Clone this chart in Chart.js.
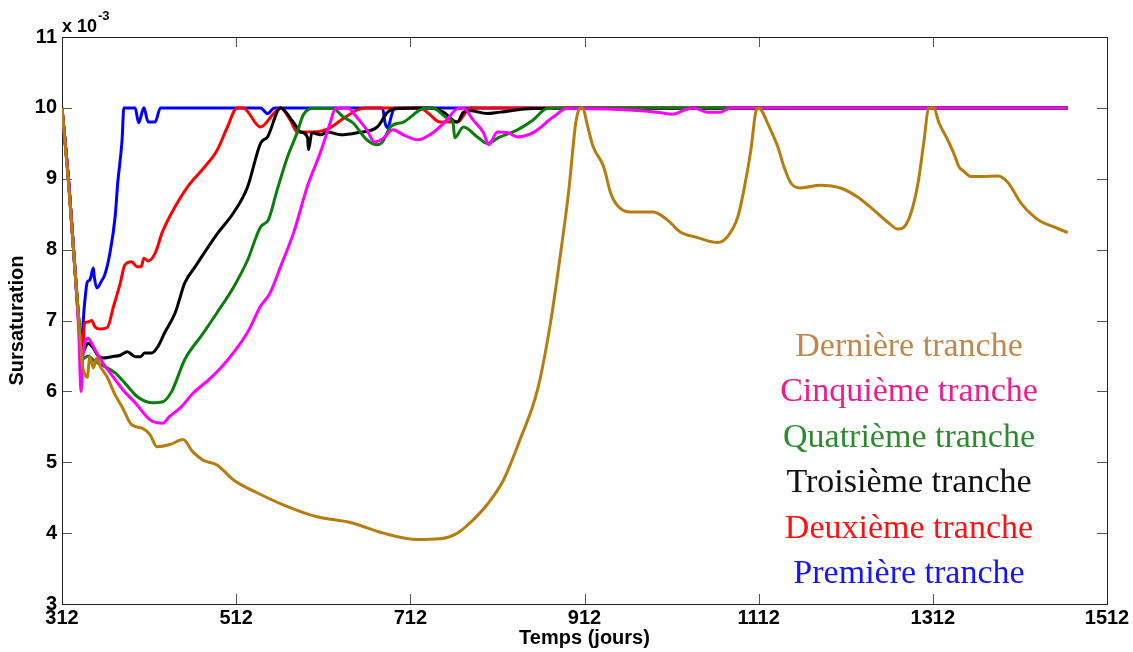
<!DOCTYPE html>
<html>
<head>
<meta charset="utf-8">
<script src="https://cdn.jsdelivr.net/npm/chart.js@4.4.0/dist/chart.umd.min.js"></script>
<style>
  html, body { margin: 0; padding: 0; background: #fff; }
</style>
</head>
<body>
<canvas id="chart" width="1133" height="652" style="width:1133px;height:652px"></canvas>
<script>
// axis ticks (x in days, y in units of 10^-3)
const xTicks = [312, 512, 712, 912, 1112, 1312, 1512];
const yMin = 3, yMax = 11;

const seriesLabels = ["Dernière tranche", "Cinquième tranche", "Quatrième tranche",
  "Troisième tranche", "Deuxième tranche", "Première tranche"];
const lineColors = ["#b47d0e", "#ff00ff", "#0a7d0a", "#000000", "#ff0000", "#0000ff"];
const textColors = ["#c0874b", "#ec1d8c", "#2f8a2f", "#111111", "#ff1010", "#1414ff"];

// Dernière tranche
const derniereX = [312, 319, 327, 333, 335, 338, 341, 344, 348, 352, 356, 364, 373, 381, 392, 404, 413, 421, 436, 451,
  462, 474, 490, 509, 536, 566, 605, 643, 681, 720, 746, 766, 781, 800, 819, 838, 858, 873, 884, 894,
  902, 907, 910, 915, 922, 934, 942, 950, 965, 991, 1007, 1022, 1042, 1065, 1076, 1088, 1095, 1103, 1109, 1112,
  1116, 1122, 1134, 1141, 1149, 1160, 1183, 1206, 1226, 1244, 1260, 1272, 1279, 1287, 1295, 1302, 1307, 1310, 1313, 1319,
  1329, 1336, 1342, 1348, 1356, 1367, 1387, 1398, 1413, 1433, 1451, 1467];
const derniereY = [10.0, 9.0, 7.7, 6.73, 6.4, 6.25, 6.2, 6.49, 6.33, 6.47, 6.35, 6.2, 5.95, 5.78, 5.53, 5.48, 5.39, 5.22, 5.25, 5.32,
  5.15, 5.03, 4.96, 4.75, 4.57, 4.40, 4.23, 4.15, 4.0, 3.91, 3.92, 4.0, 4.15, 4.4, 4.75, 5.32, 6.02, 6.97, 7.9, 8.84,
  9.79, 10.0, 10.0, 9.77, 9.45, 9.17, 8.8, 8.62, 8.53, 8.53, 8.42, 8.25, 8.17, 8.1, 8.18, 8.46, 8.84, 9.4, 9.96, 10.0,
  9.95, 9.79, 9.45, 9.17, 8.94, 8.87, 8.91, 8.87, 8.74, 8.56, 8.39, 8.29, 8.32, 8.52, 8.94, 9.55, 9.99, 10.0, 10.0, 9.79,
  9.55, 9.36, 9.17, 9.1, 9.03, 9.03, 9.04, 8.95, 8.66, 8.42, 8.32, 8.24];

// Cinquième tranche
const cinquiemeX = [312, 320, 327, 331, 334, 336, 342, 346, 352, 359, 371, 382, 396, 413, 428, 435, 448, 463, 482, 502,
  525, 540, 551, 563, 578, 594, 609, 620, 626, 640, 651, 662, 671, 680, 692, 704, 720, 738, 754, 766,
  773, 784, 796, 802, 812, 824, 835, 853, 876, 892, 977, 1000, 1013, 1027, 1037, 1053, 1068, 1080, 1467];
const cinquiemeY = [10, 8.9, 7.7, 6.9, 6.0, 6.49, 6.75, 6.68, 6.54, 6.4, 6.2, 6.02, 5.84, 5.6, 5.55, 5.64, 5.77, 5.98, 6.18, 6.44,
  6.83, 7.2, 7.39, 7.76, 8.24, 8.9, 9.38, 9.79, 9.99, 10, 9.86, 9.69, 9.52, 9.56, 9.69, 9.62, 9.55, 9.65, 9.83, 9.99,
  10, 9.83, 9.65, 9.48, 9.66, 9.65, 9.59, 9.65, 9.87, 9.99, 9.96, 9.93, 9.91, 9.97, 10, 9.94, 9.94, 10, 10];

// Quatrième tranche
const quatriemeX = [312, 320, 327, 332, 335, 342, 350, 358, 373, 384, 399, 415, 427, 438, 453, 473, 490, 509, 525, 540,
  549, 559, 571, 582, 589, 600, 623, 635, 646, 662, 674, 680, 689, 704, 727, 738, 754, 761, 763, 773,
  789, 800, 815, 835, 853, 869, 892, 1467];
const quatriemeY = [10, 8.9, 7.7, 6.9, 6.45, 6.5, 6.42, 6.37, 6.26, 6.12, 5.92, 5.84, 5.85, 6.0, 6.45, 6.8, 7.11, 7.47, 7.85, 8.32,
  8.42, 8.84, 9.31, 9.65, 9.9, 9.99, 9.99, 9.87, 9.79, 9.55, 9.48, 9.52, 9.73, 9.8, 9.99, 10, 9.86, 9.79, 9.58, 9.73,
  9.59, 9.5, 9.59, 9.69, 9.83, 9.99, 10, 10];

// Troisième tranche
const troisiemeX = [312, 320, 327, 332, 335, 342, 348, 353, 359, 369, 379, 387, 396, 402, 407, 415, 422, 430, 442, 453,
  465, 490, 509, 525, 540, 548, 563, 578, 586, 594, 595, 599, 609, 617, 632, 651, 674, 686, 697, 723,
  735, 750, 766, 773, 781, 800, 815, 853, 1467];
const troisiemeY = [10, 8.9, 7.7, 6.9, 6.54, 6.68, 6.61, 6.51, 6.47, 6.49, 6.51, 6.56, 6.49, 6.49, 6.54, 6.54, 6.63, 6.83, 7.11, 7.53,
  7.76, 8.22, 8.52, 8.88, 9.5, 9.59, 10, 9.79, 9.66, 9.58, 9.41, 9.65, 9.62, 9.66, 9.62, 9.65, 9.73, 9.94, 9.99, 10,
  10, 9.94, 9.8, 9.94, 9.96, 9.92, 9.94, 9.99, 10];

// Deuxième tranche
const deuxiemeX = [312, 320, 327, 332, 335, 338, 342, 346, 350, 356, 364, 371, 379, 384, 392, 398, 403, 406, 411, 419,
  427, 438, 457, 476, 490, 502, 513, 520, 540, 555, 563, 574, 582, 600, 617, 635, 651, 660, 723, 733,
  746, 766, 781, 1467];
const deuxiemeY = [10, 8.9, 7.7, 6.9, 6.44, 6.97, 6.98, 7.0, 6.91, 6.88, 6.9, 7.19, 7.53, 7.78, 7.83, 7.76, 7.76, 7.88, 7.84, 7.95,
  8.24, 8.52, 8.9, 9.17, 9.4, 9.73, 10, 10, 9.73, 9.92, 10, 9.83, 9.66, 9.66, 9.7, 9.85, 9.97, 10, 10, 9.92,
  9.8, 9.8, 10, 10];

// Première tranche
const premiereX = [312, 320, 327, 331, 334, 338, 341, 344, 348, 349, 352, 358, 361, 367, 373, 376, 381, 383, 396, 400,
  406, 411, 419, 425, 540, 548, 556, 680, 683, 686, 691, 694, 1467];
const premiereY = [10, 8.9, 7.7, 7.0, 6.7, 7.25, 7.54, 7.57, 7.74, 7.62, 7.46, 7.57, 7.64, 7.95, 8.46, 8.94, 9.55, 10, 10, 9.79,
  10, 9.8, 9.8, 10, 10, 9.92, 10, 10, 9.79, 9.72, 9.92, 10, 10];

const seriesX = [derniereX, cinquiemeX, quatriemeX, troisiemeX, deuxiemeX, premiereX];
const seriesY = [derniereY, cinquiemeY, quatriemeY, troisiemeY, deuxiemeY, premiereY];

const datasets = seriesLabels.map((label, i) => ({
  label: label,
  data: seriesX[i].map((x, j) => ({ x: x, y: seriesY[i][j] })),
  borderColor: lineColors[i],
  borderWidth: 3,
  pointRadius: 0,
  fill: false,
  cubicInterpolationMode: "monotone"
}));

const sans = "'Liberation Sans', Arial, sans-serif";
const tickFont = { family: sans, weight: "bold", size: 20 };
const titleFont = { family: sans, weight: "bold", size: 20 };

// MATLAB style box, inward ticks, text legend and exponent
const matlabLook = {
  id: "matlabLook",
  beforeDatasetsDraw(chart) {
    const { ctx, chartArea: a, scales: { x, y } } = chart;
    ctx.save();
    ctx.strokeStyle = "#555";
    ctx.lineWidth = 1;
    ctx.beginPath();
    x.ticks.forEach(t => {
      const px = Math.round(x.getPixelForValue(t.value)) + 0.5;
      ctx.moveTo(px, a.bottom); ctx.lineTo(px, a.bottom - 10);
      ctx.moveTo(px, a.top); ctx.lineTo(px, a.top + 10);
    });
    y.ticks.forEach(t => {
      const py = Math.round(y.getPixelForValue(t.value)) + 0.5;
      ctx.moveTo(a.left, py); ctx.lineTo(a.left + 10, py);
      ctx.moveTo(a.right, py); ctx.lineTo(a.right - 10, py);
    });
    ctx.stroke();
    ctx.strokeStyle = "#222";
    ctx.strokeRect(Math.round(a.left) + 0.5, Math.round(a.top) + 0.5, Math.round(a.width), Math.round(a.height));
    ctx.restore();
  },
  afterDraw(chart) {
    const { ctx, chartArea: a } = chart;
    ctx.save();
    // exponent above the y axis
    ctx.fillStyle = "#000";
    ctx.textAlign = "left";
    ctx.textBaseline = "alphabetic";
    ctx.font = "bold 18px " + sans;
    ctx.fillText("x 10", a.left, 32);
    const w = ctx.measureText("x 10").width;
    ctx.font = "bold 13px " + sans;
    ctx.fillText("-3", a.left + w + 1, 20);
    // text legend
    ctx.font = "34px 'Liberation Serif', 'Times New Roman', serif";
    ctx.textAlign = "center";
    chart.data.datasets.forEach((ds, i) => {
      ctx.fillStyle = textColors[i];
      ctx.fillText(ds.label, a.right - 198, 356 + i * 45.4);
    });
    ctx.restore();
  }
};

new Chart(document.getElementById("chart"), {
  type: "line",
  data: { datasets: datasets },
  options: {
    responsive: false,
    devicePixelRatio: 1,
    animation: false,
    layout: { padding: { top: 37, right: 26, bottom: 0, left: 0 } },
    plugins: {
      legend: { display: false },
      tooltip: { enabled: false }
    },
    scales: {
      x: {
        type: "linear",
        min: xTicks[0],
        max: xTicks[xTicks.length - 1],
        afterBuildTicks: scale => { scale.ticks = xTicks.map(v => ({ value: v })); },
        afterFit: scale => { scale.height = 48; },
        grid: { display: false, drawTicks: false },
        border: { display: false },
        ticks: { font: tickFont, color: "#000", padding: 2, maxRotation: 0, autoSkip: false,
          callback: v => String(v) },
        title: { display: true, text: "Temps (jours)", color: "#000", font: titleFont,
          padding: { top: 0, bottom: 2 } }
      },
      y: {
        min: yMin,
        max: yMax,
        afterFit: scale => { scale.width = 62; },
        grid: { display: false, drawTicks: false },
        border: { display: false },
        ticks: { stepSize: 1, font: tickFont, color: "#000", padding: 5, callback: v => String(v) },
        title: { display: true, text: "Sursaturation", color: "#000", font: titleFont,
          padding: { top: 5, bottom: 0 } }
      }
    }
  },
  plugins: [matlabLook]
});
</script>
</body>
</html>
